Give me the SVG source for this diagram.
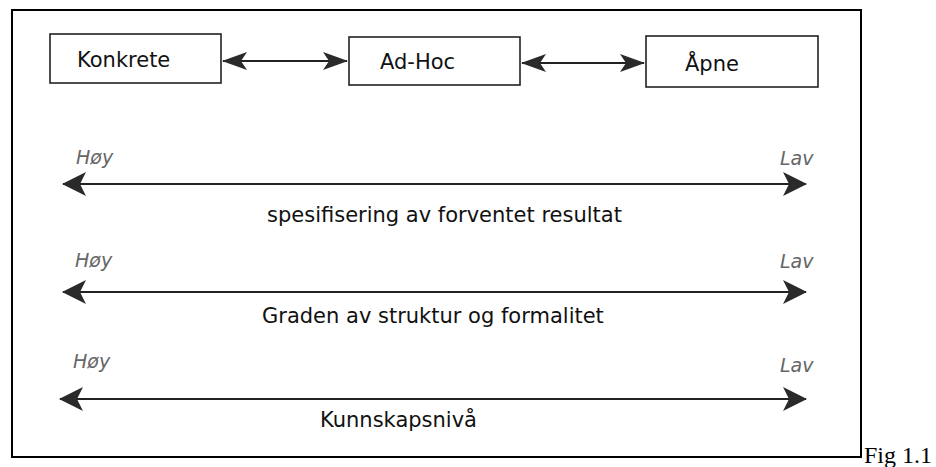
<svg xmlns="http://www.w3.org/2000/svg" width="936" height="467" viewBox="0 0 936 467">
<defs>
<style>
.box{fill:#fff;stroke:#222;stroke-width:1.6}
.frame{fill:#fff;stroke:#000;stroke-width:2}
.lbl{font-family:"DejaVu Sans",Verdana,sans-serif;font-size:21px;fill:#111}
.end{font-family:"DejaVu Sans",Verdana,sans-serif;font-size:19px;font-style:italic;fill:#666}
.ln{stroke:#222;stroke-width:2;fill:none}
.s{marker-start:url(#ah);marker-end:url(#ah)}
.b{marker-start:url(#ahs);marker-end:url(#ahs)}
</style>
<marker id="ah" viewBox="0 0 24 24" refX="23" refY="12" markerWidth="24" markerHeight="24" markerUnits="userSpaceOnUse" orient="auto-start-reverse">
<path d="M0,0 L24,12 L0,24 L6,12 Z" fill="#2a2a2a"/>
</marker>
<marker id="ahs" viewBox="0 0 25 18" refX="24" refY="9" markerWidth="25" markerHeight="18" markerUnits="userSpaceOnUse" orient="auto-start-reverse">
<path d="M0,0 L25,9 L0,18 L6,9 Z" fill="#2a2a2a"/>
</marker>
</defs>
<rect width="936" height="467" fill="#fff"/>
<rect class="frame" x="12" y="10" width="849" height="447"/>
<g id="konkrete">
<rect class="box" x="50" y="34" width="171" height="49"/>
<text class="lbl" x="77" y="67">Konkrete</text>
</g>
<g id="adhoc">
<rect class="box" x="349" y="37" width="171" height="48"/>
<text class="lbl" x="380" y="69">Ad-Hoc</text>
</g>
<g id="apne">
<rect class="box" x="646" y="36" width="172" height="51"/>
<text class="lbl" x="685" y="71">Åpne</text>
</g>
<g id="connectors">
<line class="ln b" x1="223" y1="61" x2="347" y2="61"/>
<line class="ln b" x1="522" y1="63" x2="644" y2="63"/>
<line class="ln s" x1="63" y1="184" x2="806" y2="184"/>
<line class="ln s" x1="63" y1="292" x2="806" y2="292"/>
<line class="ln s" x1="60" y1="399" x2="806" y2="399"/>
</g>
<g id="scale1">
<text class="end" x="76" y="164">Høy</text>
<text class="end" x="780" y="165">Lav</text>
<text class="lbl" x="267" y="222">spesifisering av forventet resultat</text>
</g>
<g id="scale2">
<text class="end" x="75" y="267">Høy</text>
<text class="end" x="780" y="268">Lav</text>
<text class="lbl" x="262" y="323">Graden av struktur og formalitet</text>
</g>
<g id="scale3">
<text class="end" x="73" y="368">Høy</text>
<text class="end" x="780" y="372">Lav</text>
<text class="lbl" x="320" y="427">Kunnskapsnivå</text>
</g>
<text x="864" y="463" font-family="Liberation Serif,'Times New Roman',serif" font-size="24" fill="#000">Fig 1.1</text>
</svg>
